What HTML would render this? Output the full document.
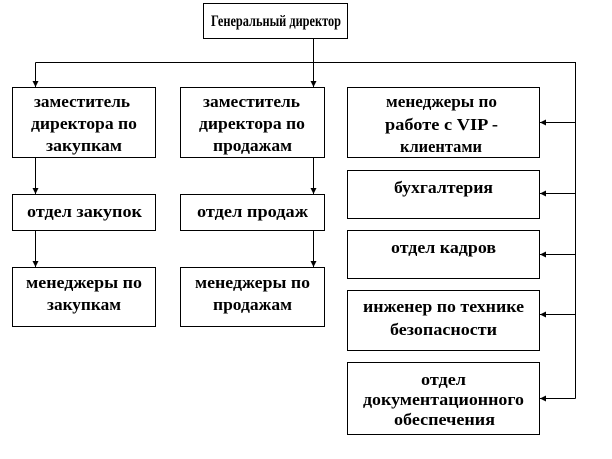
<!DOCTYPE html>
<html><head><meta charset="utf-8"><style>
html,body{margin:0;padding:0;background:#fff;width:612px;height:459px;overflow:hidden}
svg text{font-family:"Liberation Serif",serif;font-weight:bold;font-size:17px;fill:#000;text-anchor:start}
</style></head><body>
<svg width="612" height="459" viewBox="0 0 612 459" xmlns="http://www.w3.org/2000/svg">
<defs><marker id="a" viewBox="0 0 10 10" refX="10" refY="5" markerWidth="6" markerHeight="6" orient="auto"><path d="M0,0L10,5L0,10z" fill="#000"/></marker></defs>
<g fill="none" stroke="#000" stroke-width="1">
<rect x="203.5" y="3.5" width="144" height="35"/>
<rect x="12.5" y="87.5" width="143" height="70"/>
<rect x="180.5" y="87.5" width="144" height="70"/>
<rect x="347.5" y="87.5" width="192" height="70"/>
<rect x="12.5" y="194.5" width="143" height="36"/>
<rect x="180.5" y="194.5" width="144" height="36"/>
<rect x="12.5" y="267.5" width="143" height="59"/>
<rect x="180.5" y="267.5" width="144" height="59"/>
<rect x="347.5" y="170.5" width="192" height="48"/>
<rect x="347.5" y="230.5" width="192" height="48"/>
<rect x="347.5" y="290.5" width="192" height="60"/>
<rect x="347.5" y="362.5" width="192" height="72"/>
<path d="M313.5,38.5V62.5M35.5,62.5H575.5V398.5"/>
<path d="M35.5,62.5V87" marker-end="url(#a)"/>
<path d="M313.5,62.5V87" marker-end="url(#a)"/>
<path d="M35.5,158V194" marker-end="url(#a)"/>
<path d="M313.5,158V194" marker-end="url(#a)"/>
<path d="M35.5,231V267" marker-end="url(#a)"/>
<path d="M313.5,231V267" marker-end="url(#a)"/>
<path d="M575.5,122.5H540" marker-end="url(#a)"/>
<path d="M575.5,193.5H540" marker-end="url(#a)"/>
<path d="M575.5,254.5H540" marker-end="url(#a)"/>
<path d="M575.5,314.5H540" marker-end="url(#a)"/>
<path d="M575.5,398.5H540" marker-end="url(#a)"/>
</g>
<g>
<text x="211" y="26" textLength="130" lengthAdjust="spacingAndGlyphs" style="font-size:16px">Генеральный директор</text>
<text x="34" y="107" textLength="96" lengthAdjust="spacingAndGlyphs">заместитель</text>
<text x="31" y="129" textLength="106" lengthAdjust="spacingAndGlyphs">директора по</text>
<text x="46" y="151" textLength="76" lengthAdjust="spacingAndGlyphs">закупкам</text>
<text x="203" y="107" textLength="97" lengthAdjust="spacingAndGlyphs">заместитель</text>
<text x="199" y="129" textLength="106" lengthAdjust="spacingAndGlyphs">директора по</text>
<text x="213" y="151" textLength="79" lengthAdjust="spacingAndGlyphs">продажам</text>
<text x="386" y="107" textLength="111" lengthAdjust="spacingAndGlyphs">менеджеры по</text>
<text x="385" y="130" textLength="113" lengthAdjust="spacingAndGlyphs">работе с VIP -</text>
<text x="400" y="152" textLength="82" lengthAdjust="spacingAndGlyphs">клиентами</text>
<text x="27" y="217" textLength="115" lengthAdjust="spacingAndGlyphs">отдел закупок</text>
<text x="197" y="217" textLength="111" lengthAdjust="spacingAndGlyphs">отдел продаж</text>
<text x="26" y="288" textLength="116" lengthAdjust="spacingAndGlyphs">менеджеры по</text>
<text x="47" y="310" textLength="74" lengthAdjust="spacingAndGlyphs">закупкам</text>
<text x="195" y="288" textLength="115" lengthAdjust="spacingAndGlyphs">менеджеры по</text>
<text x="213" y="310" textLength="79" lengthAdjust="spacingAndGlyphs">продажам</text>
<text x="394" y="193" textLength="99" lengthAdjust="spacingAndGlyphs">бухгалтерия</text>
<text x="391" y="253" textLength="105" lengthAdjust="spacingAndGlyphs">отдел кадров</text>
<text x="363" y="312" textLength="161" lengthAdjust="spacingAndGlyphs">инженер по технике</text>
<text x="390" y="335" textLength="107" lengthAdjust="spacingAndGlyphs">безопасности</text>
<text x="421" y="385" textLength="45" lengthAdjust="spacingAndGlyphs">отдел</text>
<text x="363" y="405" textLength="161" lengthAdjust="spacingAndGlyphs">документационного</text>
<text x="394" y="425" textLength="101" lengthAdjust="spacingAndGlyphs">обеспечения</text>
</g>
</svg>
</body></html>
